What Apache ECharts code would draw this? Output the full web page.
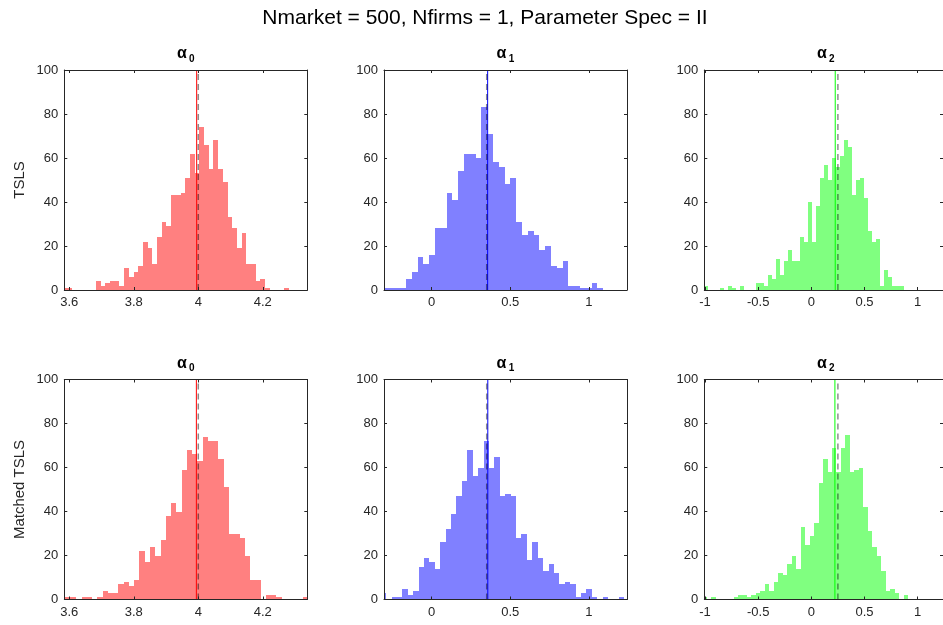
<!DOCTYPE html>
<html>
<head>
<meta charset="utf-8">
<script src="https://cdn.jsdelivr.net/npm/echarts@6/dist/echarts.min.js"></script>
<style>
  html, body { margin: 0; padding: 0; background: #fff; }
  #chart { width: 943px; height: 625px; }
</style>
</head>
<body>
<div id="chart"></div>
<script>
// one column per parameter, one row per estimator
const paramSubs = ['0', '1', '2'];
const rowNames = ['TSLS', 'Matched TSLS'];
const xLimits = [[3.5845, 4.338], [-0.303, 1.242], [-1.007, 1.239]];
const xTickStep = [0.2, 0.5, 0.5];
const trueValues = [4, 0.35, 0.25];
const meanTsls = [3.995, 0.356, 0.225];
const meanMatched = [3.994, 0.357, 0.222];

// histogram bins (first edge, width)
const binStartTsls = [3.5807, -0.311, -1.0132];
const binWidthTsls = [0.01457, 0.03687, 0.03774];
const binStartMatched = [3.5727, -0.3238, -1.0268];
const binWidthMatched = [0.01633, 0.03441, 0.04211];

const countsA0Tsls = [1, 1, 0, 0, 0, 0, 0, 4, 2, 3, 4, 4, 2, 10, 6, 8, 11, 22, 19, 12, 24, 31, 29, 43, 43, 44, 51, 62, 53, 74, 66, 55, 68, 55, 49, 33, 28, 19, 26, 12, 12, 4, 5, 1, 0, 0, 0, 1];
const countsA1Tsls = [1, 1, 1, 1, 5, 8, 15, 12, 16, 28, 28, 44, 41, 54, 62, 62, 60, 83, 71, 58, 56, 48, 51, 31, 25, 27, 25, 18, 20, 11, 10, 13, 2, 2, 1, 1, 3, 1];
const countsA2Tsls = [2, 0, 0, 0, 1, 0, 2, 1, 0, 2, 0, 0, 0, 3, 3, 2, 7, 5, 14, 7, 13, 18, 13, 13, 24, 22, 40, 22, 38, 51, 57, 50, 60, 56, 61, 68, 65, 43, 50, 51, 42, 27, 22, 23, 2, 9, 6, 2, 2, 2];
const countsA0Matched = [1, 1, 1, 0, 1, 1, 0, 1, 4, 3, 3, 7, 8, 6, 9, 22, 17, 24, 20, 27, 38, 44, 40, 59, 68, 66, 63, 74, 72, 72, 64, 51, 30, 30, 28, 20, 9, 9, 0, 2, 2, 1, 0, 0, 0, 0, 1];
const countsA1Matched = [3, 0, 1, 1, 5, 2, 4, 15, 19, 17, 14, 26, 32, 39, 47, 54, 68, 56, 60, 72, 60, 65, 47, 48, 47, 28, 30, 18, 26, 19, 13, 16, 12, 7, 8, 7, 1, 3, 5, 1, 0, 1, 0, 0, 1];
const countsA2Matched = [1, 0, 1, 0, 0, 0, 0, 1, 2, 2, 1, 2, 3, 4, 7, 4, 8, 12, 11, 16, 20, 14, 33, 25, 29, 35, 53, 64, 58, 69, 58, 69, 75, 58, 59, 60, 42, 31, 24, 20, 13, 4, 5, 3, 0, 2];

const yTicks = [0, 20, 40, 60, 80, 100];

const barColors = ['#ff8080', '#8080ff', '#80ff80'];
const lineColors = ['#ff0000', '#0000ff', '#00ff00'];
const axisColor = '#262626';
const font = "'Liberation Sans', Arial, sans-serif";

const colLeft = [64.3, 384, 704.3];
const rowTop = [70, 379.5];
const plotW = 243;
const plotH = 220;

const panels = [
  { row: 0, col: 0, start: binStartTsls[0], width: binWidthTsls[0], counts: countsA0Tsls, mean: meanTsls[0] },
  { row: 0, col: 1, start: binStartTsls[1], width: binWidthTsls[1], counts: countsA1Tsls, mean: meanTsls[1] },
  { row: 0, col: 2, start: binStartTsls[2], width: binWidthTsls[2], counts: countsA2Tsls, mean: meanTsls[2] },
  { row: 1, col: 0, start: binStartMatched[0], width: binWidthMatched[0], counts: countsA0Matched, mean: meanMatched[0] },
  { row: 1, col: 1, start: binStartMatched[1], width: binWidthMatched[1], counts: countsA1Matched, mean: meanMatched[1] },
  { row: 1, col: 2, start: binStartMatched[2], width: binWidthMatched[2], counts: countsA2Matched, mean: meanMatched[2] },
];

function fmt(v) {
  return String(+v.toFixed(6));
}

const grids = [];
const xAxes = [];
const yAxes = [];
const series = [];
const graphics = [];

panels.forEach((p) => {
  grids.push({
    left: colLeft[p.col], top: rowTop[p.row], width: plotW, height: plotH,
  });
});

// main axes first (index i), mirrored box axes after (index 6 + i)
['bottom', 'top'].forEach((pos) => {
  panels.forEach((p, i) => {
    xAxes.push({
      type: 'value',
      gridIndex: i,
      position: pos,
      min: xLimits[p.col][0],
      max: xLimits[p.col][1],
      splitNumber: p.col === 0 ? 4 : 3,
      minInterval: xTickStep[p.col],
      maxInterval: xTickStep[p.col],
      z: 10,
      axisLine: { show: true, onZero: false, lineStyle: { color: axisColor, width: 1 } },
      axisTick: { show: true, inside: true, length: 3, lineStyle: { color: axisColor } },
      axisLabel: {
        show: pos === 'bottom',
        showMinLabel: false,
        showMaxLabel: false,
        color: axisColor,
        fontSize: 13,
        fontFamily: font,
        margin: 6,
        formatter: fmt,
      },
      splitLine: { show: false },
    });
  });
});

['left', 'right'].forEach((pos) => {
  panels.forEach((p, i) => {
    yAxes.push({
      type: 'value',
      gridIndex: i,
      position: pos,
      min: yTicks[0],
      max: yTicks[yTicks.length - 1],
      interval: yTicks[1] - yTicks[0],
      z: 10,
      axisLine: { show: true, onZero: false, lineStyle: { color: axisColor, width: 1 } },
      axisTick: { show: true, inside: true, length: 3, lineStyle: { color: axisColor } },
      axisLabel: {
        show: pos === 'left',
        color: axisColor,
        fontSize: 13,
        fontFamily: font,
        margin: 6,
      },
      splitLine: { show: false },
    });
  });
});

panels.forEach((p, i) => {
  const data = p.counts.map((c, k) => [p.start + k * p.width, p.start + (k + 1) * p.width, c]);
  const fill = barColors[p.col];
  series.push({
    type: 'custom',
    xAxisIndex: i,
    yAxisIndex: i,
    clip: true,
    z: 2,
    data,
    encode: { x: [0, 1], y: 2 },
    renderItem(params, api) {
      const a = api.coord([api.value(0), api.value(2)]);
      const b = api.coord([api.value(1), 0]);
      const x0 = Math.round(a[0]);
      const x1 = Math.round(b[0]);
      const y0 = Math.round(a[1]);
      const y1 = Math.round(b[1]);
      return {
        type: 'rect',
        shape: { x: x0, y: y0, width: x1 - x0, height: y1 - y0 },
        style: { fill },
      };
    },
  });

  // estimate mean (solid) and true value (dashed)
  series.push({
    type: 'line',
    xAxisIndex: i,
    yAxisIndex: i,
    z: 4,
    symbol: 'none',
    silent: true,
    data: [[p.mean, yTicks[0]], [p.mean, yTicks[yTicks.length - 1]]],
    lineStyle: { color: lineColors[p.col], width: 1, type: 'solid' },
  });
  series.push({
    type: 'line',
    xAxisIndex: i,
    yAxisIndex: i,
    z: 5,
    symbol: 'none',
    silent: true,
    data: [[trueValues[p.col], yTicks[0]], [trueValues[p.col], yTicks[yTicks.length - 1]]],
    lineStyle: { color: 'rgba(0,0,0,0.45)', width: 1.5, type: [6, 4] },
  });

  // panel title: bold alpha with subscript
  const cx = colLeft[p.col] + plotW / 2;
  const ty = rowTop[p.row] - 16;
  graphics.push({
    type: 'text',
    x: cx - 4,
    y: ty,
    style: {
      text: 'α', font: `bold 16px ${font}`, fill: '#000', textAlign: 'center', textVerticalAlign: 'middle',
    },
  });
  graphics.push({
    type: 'text',
    x: cx + 6,
    y: ty + 5,
    style: {
      text: paramSubs[p.col], font: `bold 10px ${font}`, fill: '#000', textAlign: 'center', textVerticalAlign: 'middle',
    },
  });
});

rowNames.forEach((name, r) => {
  graphics.push({
    type: 'text',
    x: 20,
    y: rowTop[r] + plotH / 2,
    rotation: Math.PI / 2,
    style: {
      text: name, font: `15px ${font}`, fill: axisColor, textAlign: 'center', textVerticalAlign: 'middle',
    },
  });
});

graphics.push({
  type: 'text',
  x: 485,
  y: 18,
  style: {
    text: 'Nmarket = 500, Nfirms = 1, Parameter Spec = II',
    font: `21px ${font}`,
    fill: '#000',
    textAlign: 'center',
    textVerticalAlign: 'middle',
  },
});

const chart = echarts.init(document.getElementById('chart'), null, { renderer: 'canvas' });
chart.setOption({
  animation: false,
  backgroundColor: '#fff',
  grid: grids,
  xAxis: xAxes,
  yAxis: yAxes,
  series,
  graphic: graphics,
});
</script>
</body>
</html>
